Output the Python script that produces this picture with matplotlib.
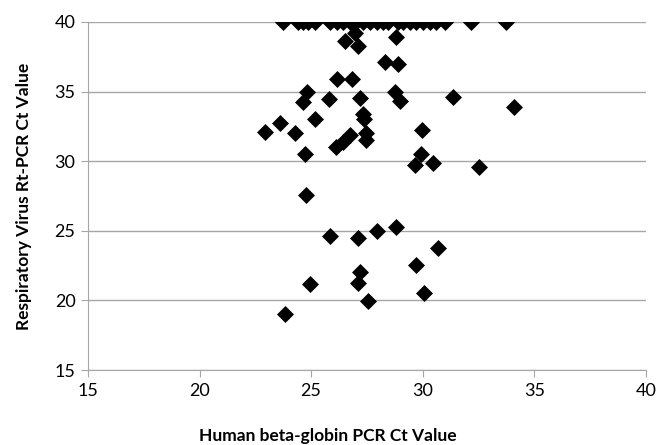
import matplotlib
matplotlib.use('Agg')
import matplotlib.pyplot as plt

# Ct values; 40 = not detected
top_row_x = [23.75, 24.42, 24.64, 24.87, 25.17, 25.84, 26.14, 26.43, 26.73, 27.03,
             27.33, 27.63, 27.93, 28.23, 28.45, 28.90, 29.12, 29.42, 29.72, 30.01,
             30.31, 30.61, 30.98, 32.18, 33.72]
top_row_y = [40] * len(top_row_x)

beta_globin = [26.96, 26.51, 27.10, 28.82, 28.30, 28.90, 26.14, 26.81, 24.80, 28.75,
               24.64, 25.80, 27.18, 28.97, 31.36, 34.08, 27.33, 27.35, 25.17, 23.60,
               22.93, 24.27, 27.45, 27.48, 26.13, 26.43, 26.73, 29.99, 24.72, 29.94,
               29.64, 30.44, 32.52, 24.79, 25.84, 27.10, 27.95, 28.82, 30.69, 27.18,
               27.10, 24.94, 29.72, 30.05, 27.55, 23.82]
virus_ct = [39.20, 38.60, 38.30, 38.90, 37.15, 37.00, 35.90, 35.90, 35.00, 35.00,
            34.25, 34.45, 34.55, 34.35, 34.60, 33.90, 33.40, 33.00, 33.00, 32.75,
            32.07, 32.05, 32.05, 31.50, 31.04, 31.40, 31.85, 32.24, 30.55, 30.50,
            29.75, 29.85, 29.60, 27.57, 24.63, 24.46, 25.00, 25.25, 23.79, 22.06,
            21.23, 21.18, 22.54, 20.55, 19.98, 19.02]

x_all = top_row_x + beta_globin
y_all = top_row_y + virus_ct

plt.rcParams['font.family'] = ['Lato', 'DejaVu Sans']

fig = plt.figure(figsize=(6.7, 4.45), dpi=100)
ax = fig.add_axes([0.1313, 0.1685, 0.8327, 0.7821])

ax.scatter(x_all, y_all, marker='D', s=75, color='black', linewidths=0, zorder=3)

ax.set_xlim(15, 40)
ax.set_ylim(15, 40)
ax.set_xticks([15, 20, 25, 30, 35, 40])
ax.set_yticks([15, 20, 25, 30, 35, 40])
ax.yaxis.grid(True, color='#a6a6a6', linewidth=1)
ax.set_axisbelow(True)

for side in ['top', 'right']:
    ax.spines[side].set_visible(False)
for side in ['left', 'bottom']:
    ax.spines[side].set_color('#a6a6a6')
ax.tick_params(axis='both', colors='#a6a6a6', length=5, labelcolor='black',
               labelsize=13, pad=4)

ax.set_xlabel('Human beta-globin PCR Ct Value', fontsize=12.5, fontweight='bold')
ax.xaxis.set_label_coords(0.43, -0.168)
ax.set_ylabel('Respiratory Virus Rt-PCR Ct Value', fontsize=12.5, fontweight='bold')
ax.yaxis.set_label_coords(-0.1, 0.5)

fig.savefig('out.png', dpi=100)
